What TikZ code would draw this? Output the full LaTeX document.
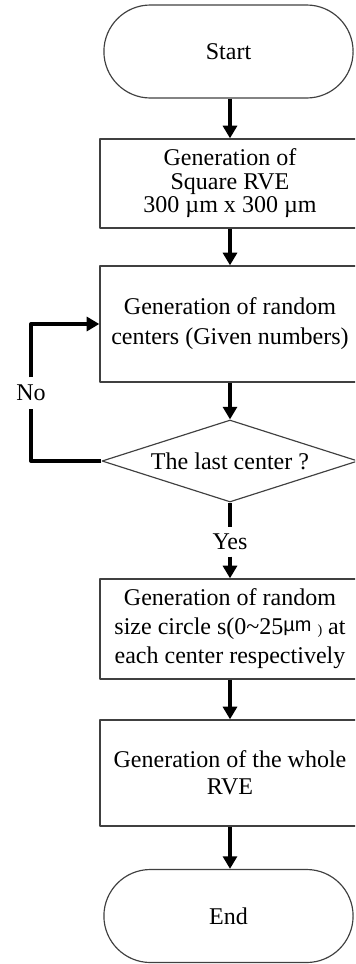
\documentclass[tikz,border=0pt]{standalone}
\usepackage{fontspec}
\setmainfont{Liberation Serif}
\newfontfamily\umfont{Liberation Sans}
\usetikzlibrary{shapes.geometric,shapes.misc,arrows.meta}
\begin{document}
\begin{tikzpicture}[>={Triangle[width=0.42cm,length=0.38cm]},line join=round,
	font=\fontsize{20.5}{24}\selectfont,
	term/.style={draw=black!75,line width=0.035cm,rounded rectangle,minimum width=7.71cm,minimum height=2.79cm},
	proc/.style={draw=black!75,line width=0.04cm,rectangle,minimum width=7.8cm,align=center,inner sep=0pt},
	decide/.style={draw=black!75,line width=0.035cm,diamond,aspect=3.1,minimum width=7.68cm,minimum height=2.46cm,inner sep=0pt},
	link/.style={line width=0.12cm},
	arr/.style={link,->}]
	\useasboundingbox (0,0) rectangle (10.65,-28.92);
	\clip (0,0) rectangle (10.65,-28.92);
	% nodes
	\node[term] (start) at (6.855,-1.545) {Start};
	\node[proc,minimum height=2.67cm,font=\fontsize{20.5}{20}\selectfont] (rve) at (6.9,-5.505) {Generation of\\Square RVE\\300 µm x 300 µm};
	\node[proc,minimum height=3.48cm,font=\fontsize{20.5}{25.6}\selectfont] (centers) at (6.9,-9.72) {Generation of random\\centers (Given numbers)};
	\node[decide] (last) at (6.9,-13.83) {The last center ?};
	\node[minimum height=0.87cm,inner sep=0pt] (yes) at (6.9,-16.26) {Yes};
	\node[proc,minimum height=3.0cm,font=\fontsize{20.5}{24.75}\selectfont] (circles) at (6.9,-18.87) {Generation of random\\size circle s(0\textasciitilde25\raisebox{.35ex}{\umfont\fontsize{17}{17}\selectfont µm} {\fontsize{12}{12}\selectfont)} at\\each center respectively};
	\node[proc,minimum height=3.18cm,font=\fontsize{20.5}{23}\selectfont] (whole) at (6.9,-23.19) {Generation of the whole\\RVE};
	\node[term] (end) at (6.855,-27.48) {End};
	\node[fill=white,minimum height=0.93cm,inner sep=0pt] (no) at (0.93,-11.79) {No};
	% connectors
	\draw[arr] (start.south -| rve.north) -- (rve);
	\draw[arr] (rve) -- (centers);
	\draw[arr] (centers) -- (last);
	\draw[link] (last.south) -- (yes.north);
	\draw[arr] (yes.south) -- (circles.north);
	\draw[arr] (circles) -- (whole);
	\draw[arr] (whole) -- (end.north -| whole.south);
	\draw[link] (last.west) -| (no.south);
	\draw[arr] (no.north) |- (centers.west);
\end{tikzpicture}
\end{document}
